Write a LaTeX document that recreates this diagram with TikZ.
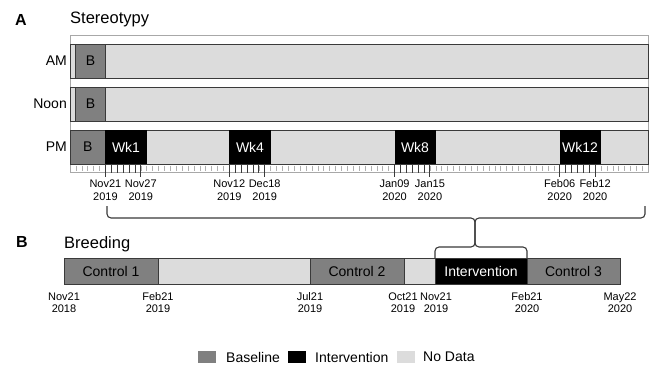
\documentclass[tikz,border=0pt]{standalone}
\usepackage{fontspec}
\setmainfont{Liberation Sans}
\definecolor{basec}{HTML}{808080}
\definecolor{nodata}{HTML}{DCDCDC}
\definecolor{edgec}{HTML}{3A3A3A}
\definecolor{outerc}{HTML}{A8A8A8}
\definecolor{tickc}{HTML}{B0B0B0}
\begin{document}
\begin{tikzpicture}[x=1pt,y=-1pt,
  seg/.style={draw=edgec, line width=0.9pt},
  lbl/.style={font=\fontsize{14}{16}\selectfont, inner sep=0pt},
  wlbl/.style={font=\fontsize{14}{16}\selectfont, inner sep=0pt, text=white},
  datelbl/.style={font=\fontsize{11}{13}\selectfont, align=center, inner sep=0pt},
  bdatelbl/.style={font=\fontsize{11}{12}\selectfont, align=center, inner sep=0pt},
  panel/.style={font=\fontsize{16}{18}\selectfont\bfseries, inner sep=0pt},
  title/.style={font=\fontsize{16.5}{18}\selectfont, inner sep=0pt, anchor=base west},
  brace/.style={draw=edgec, line width=1.1pt, rounded corners=4pt},
  legsq/.style={draw=none, minimum width=18pt, minimum height=12pt, inner sep=0pt}
]
\useasboundingbox (0,0) rectangle (652,366);
\fill[white] (0,0) rectangle (652,366);

% ---------- Panel A ----------
\node[panel] (pA) at (21,20) {A};
\node[title] (tA) at (70,24) {Stereotypy};

\draw[outerc, line width=0.8pt, fill=white] (70,35) rectangle (648,172);

% rows
\draw[seg, fill=nodata] (70,44) rectangle (648,78);
\draw[seg, fill=nodata] (70,87) rectangle (648,121);
\draw[seg, fill=nodata] (70,130) rectangle (648,164);

% AM
\draw[seg, fill=basec] (75.9,44) rectangle (105.4,78);
\node[lbl] (bAM) at (90.6,61) {B};
\node[lbl, anchor=east] (am) at (67,61) {AM};
% Noon
\draw[seg, fill=basec] (75.9,87) rectangle (105.4,121);
\node[lbl] (bNoon) at (90.6,104) {B};
\node[lbl, anchor=east] (noon) at (67,104) {Noon};
% PM
\draw[seg, fill=basec] (70,130) rectangle (105.4,164);
\node[lbl] (bPM) at (87.7,147) {B};
\node[lbl, anchor=east] (pm) at (67,147) {PM};

\fill[black] (105.4,130) rectangle (146.7,164);
\node[wlbl] (wk1) at (126,147) {Wk1};
\fill[black] (229.3,130) rectangle (270.6,164);
\node[wlbl] (wk4) at (250,147) {Wk4};
\fill[black] (394.5,130) rectangle (435.8,164);
\node[wlbl] (wk8) at (415,147) {Wk8};
\fill[black] (559.7,130) rectangle (601,164);
\node[wlbl] (wk12) at (580,147) {Wk12};
\draw[edgec, line width=0.9pt] (70,164) -- (648,164);

% daily tick strip
\foreach \k in {1,...,97}{
  \draw[tickc, line width=0.6pt] ({70+5.9*\k},165.5) -- ({70+5.9*\k},171);
}
% week ticks
\foreach \d/\la/\lb/\ya/\yb in {6/Nov21/Nov27/2019/2019, 27/Nov12/Dec18/2019/2019, 55/Jan09/Jan15/2020/2020, 83/Feb06/Feb12/2020/2020}{
  \foreach \m in {1,...,5}{
    \draw[edgec, line width=0.7pt] ({70+5.9*(\d+\m)},164) -- ({70+5.9*(\d+\m)},172.5);
  }
  \draw[edgec, line width=0.9pt] ({70+5.9*\d},164) -- ({70+5.9*\d},177);
  \draw[edgec, line width=0.9pt] ({70+5.9*(\d+6)},164) -- ({70+5.9*(\d+6)},177);
  \node[datelbl] at ({70+5.9*\d},190.5) {\la\\\ya};
  \node[datelbl] at ({70+5.9*(\d+6)},190.5) {\lb\\\yb};
}

% ---------- connecting braces ----------
\coordinate (ul) at (107,206);
\coordinate (ur) at (645,206);
\coordinate (tip) at (475,218);
\coordinate (tipb) at (475,247);
\coordinate (ll) at (435,258);
\coordinate (lr) at (527,258);
\draw[brace] (ul) -- (107,218) -- (tip) -- (tipb) -- (435,247) -- (ll);
\draw[brace] (ur) -- (645,218) -- (tip) -- (tipb) -- (527,247) -- (lr);

% ---------- Panel B ----------
\node[panel] (pB) at (22,242) {B};
\node[title] (tB) at (64,248) {Breeding};

\draw[seg, fill=basec] (64,258) rectangle (158,284);
\node[lbl] (c1) at (111,271) {Control 1};
\draw[seg, fill=nodata] (158,258) rectangle (310,284);
\draw[seg, fill=basec] (310,258) rectangle (404,284);
\node[lbl] (c2) at (357,271) {Control 2};
\draw[seg, fill=nodata] (404,258) rectangle (435,284);
\draw[seg, fill=black] (435,258) rectangle (527,284);
\node[wlbl] (iv) at (481,271) {Intervention};
\draw[seg, fill=basec] (527,258) rectangle (620,284);
\node[lbl] (c3) at (573.5,271) {Control 3};

\node[bdatelbl] (d1) at (64,303) {Nov21\\2018};
\node[bdatelbl] (d2) at (158,303) {Feb21\\2019};
\node[bdatelbl] (d3) at (310,303) {Jul21\\2019};
\node[bdatelbl] (d4) at (403,303) {Oct21\\2019};
\node[bdatelbl] (d5) at (436,303) {Nov21\\2019};
\node[bdatelbl] (d6) at (527,303) {Feb21\\2020};
\node[bdatelbl] (d7) at (620,303) {May22\\2020};

% ---------- Legend ----------
\node[legsq, fill=basec] (lg1) at (207,357) {};
\node[lbl, anchor=west] (lt1) at (226,357) {Baseline};
\node[legsq, fill=black] (lg2) at (297,357) {};
\node[lbl, anchor=west] (lt2) at (315,357) {Intervention};
\node[legsq, fill=nodata] (lg3) at (406,357) {};
\node[lbl, anchor=west] (lt3) at (423,357) {No Data};
\end{tikzpicture}
\end{document}
